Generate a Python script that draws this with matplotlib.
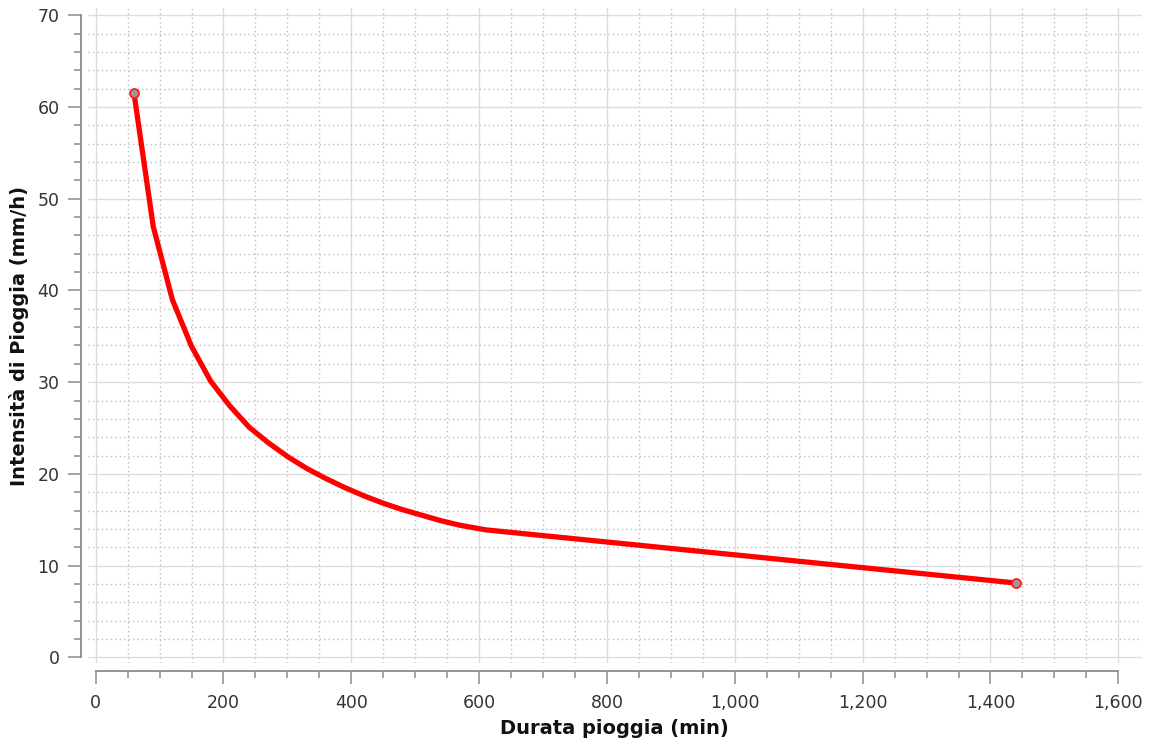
import matplotlib
matplotlib.use("Agg")
import matplotlib.pyplot as plt
from matplotlib.ticker import MultipleLocator, FuncFormatter

# Data
durata_min = [60, 90, 120, 150, 180, 210, 240, 270, 300, 330, 360, 390,
              420, 450, 480, 510, 540, 570, 610, 1440]
intensita_mmh = [61.5, 47.0, 39.0, 33.9, 30.1, 27.4, 25.1, 23.4, 21.9, 20.6,
                 19.5, 18.5, 17.6, 16.8, 16.1, 15.5, 14.9, 14.4, 13.9, 8.1]

x_label = "Durata pioggia (min)"
y_label = "Intensità di Pioggia (mm/h)"

plt.rcParams['font.family'] = ['DejaVu Sans']

fig = plt.figure(figsize=(11.5, 7.44), dpi=100)
ax = fig.add_axes([88 / 1150, (744 - 663) / 744, (1141.7 - 88) / 1150, (663 - 8) / 744])

ax.plot(durata_min, intensita_mmh, color='#ff0000', lw=3.8, solid_capstyle='round',
        solid_joinstyle='round', marker='o', markevery=[0, len(durata_min) - 1],
        markersize=6.5, markerfacecolor='#9a9a9a', markeredgecolor='#ff2020',
        markeredgewidth=1.3, zorder=5)

ax.set_xlim(-12, 1636.6)
ax.set_ylim(-0.62, 70.8)

ax.xaxis.set_major_locator(MultipleLocator(200))
ax.xaxis.set_minor_locator(MultipleLocator(50))
ax.yaxis.set_major_locator(MultipleLocator(10))
ax.yaxis.set_minor_locator(MultipleLocator(2))
ax.xaxis.set_major_formatter(FuncFormatter(lambda v, p: f"{v:,.0f}"))
ax.yaxis.set_major_formatter(FuncFormatter(lambda v, p: f"{v:.0f}"))

ax.grid(which='major', color='#dcdcdc', lw=1.0, ls='-', zorder=0)
ax.grid(which='minor', color='#bdbdbd', lw=1.0, ls=(0, (1, 2.2)), zorder=0)
ax.set_axisbelow(True)

for s in ['top', 'right']:
    ax.spines[s].set_visible(False)
ax.spines['left'].set_position(('outward', 5))
ax.spines['bottom'].set_position(('outward', 6))
ax.spines['left'].set_bounds(0, 70)
ax.spines['bottom'].set_bounds(0, 1600)
for s in ['left', 'bottom']:
    ax.spines[s].set_color('#8a8a8a')
    ax.spines[s].set_linewidth(1.3)

ax.tick_params(which='major', direction='out', length=9.5, width=1.1, color='#8a8a8a',
               labelsize=12.5, labelcolor='#333333')
ax.tick_params(which='minor', direction='out', length=5.2, width=1.1, color='#8a8a8a')
ax.tick_params(axis='y', which='major', pad=6)
ax.tick_params(axis='x', which='major', pad=7)

ax.set_xlabel(x_label, fontsize=14, fontweight='bold', color='#111111', labelpad=5)
ax.set_ylabel(y_label, fontsize=14, fontweight='bold', color='#111111', labelpad=6)

fig.savefig("out.png", dpi=100)
